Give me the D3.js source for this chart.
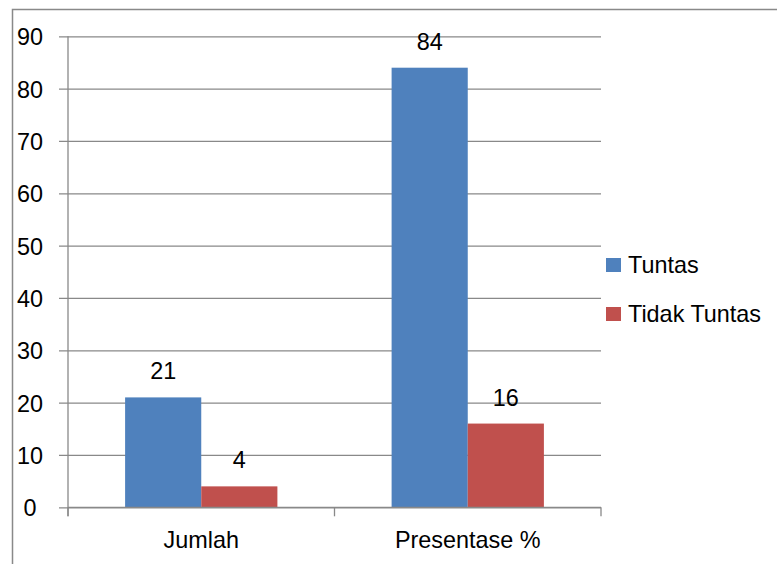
<!DOCTYPE html>
<html>
<head>
<meta charset="utf-8">
<script src="https://cdn.jsdelivr.net/npm/d3@7"></script>
<style>
  html, body { margin: 0; padding: 0; background: #fff; }
  svg { display: block; }
  text { font-family: "Liberation Sans", Arial, sans-serif; fill: #000; }
</style>
</head>
<body>
<svg id="chart" width="777" height="564"></svg>
<script>
// Chart data
const categories = ["Jumlah", "Presentase %"];
const seriesNames = ["Tuntas", "Tidak Tuntas"];
const tuntas = [21, 84];
const tidakTuntas = [4, 16];
const yTicks = [0, 10, 20, 30, 40, 50, 60, 70, 80, 90];
const colors = ["#4F81BD", "#C0504D"];

const svg = d3.select("#chart");
const W = 777, H = 564;
const plot = { left: 68, right: 601, top: 36.3, bottom: 507.3 };
const gridColor = "#898989";
const fontSize = 23.4;

// Outer chart frame (extends past the right and bottom edges)
svg.append("path")
  .attr("d", `M12.5,${H + 2} L12.5,9.5 L${W + 2},9.5`)
  .attr("fill", "none")
  .attr("stroke", gridColor)
  .attr("stroke-width", 1.5);

const y = d3.scaleLinear().domain([0, 90]).range([plot.bottom, plot.top]);
const x0 = d3.scaleBand().domain(categories).range([plot.left, plot.right]).paddingInner(0).paddingOuter(0);
const x1 = d3.scaleBand().domain(seriesNames).range([0, x0.bandwidth()]).paddingInner(0).paddingOuter(0.75);

// Horizontal gridlines with tick stubs
const yAxis = d3.axisLeft(y).tickValues(yTicks).tickSize(-(plot.right - plot.left)).tickPadding(0).tickFormat("");
const gy = svg.append("g").attr("transform", `translate(${plot.left},0)`).call(yAxis);
gy.select(".domain").remove();
gy.selectAll(".tick line").attr("stroke", gridColor).attr("stroke-width", 1.3)
  .attr("x1", -9);
gy.selectAll(".tick")
  .append("text")
  .attr("x", -38)
  .attr("dy", "0.36em")
  .attr("text-anchor", "middle")
  .style("font-size", fontSize + "px")
  .text(d => d);

// Bars
const rows = categories.map((c, i) => ({ cat: c, vals: [tuntas[i], tidakTuntas[i]] }));
const groups = svg.append("g").selectAll("g").data(rows).join("g")
  .attr("transform", d => `translate(${x0(d.cat)},0)`);

groups.selectAll("rect").data(d => d.vals.map((v, j) => ({ v, s: seriesNames[j], j })))
  .join("rect")
  .attr("x", d => x1(d.s))
  .attr("width", x1.bandwidth())
  .attr("y", d => y(d.v))
  .attr("height", d => y(0) - y(d.v))
  .attr("fill", d => colors[d.j]);

// Value labels
groups.selectAll("text.val").data(d => d.vals.map((v, j) => ({ v, s: seriesNames[j], j })))
  .join("text")
  .attr("class", "val")
  .attr("x", d => x1(d.s) + x1.bandwidth() / 2)
  .attr("y", d => y(d.v) - 18)
  .attr("text-anchor", "middle")
  .style("font-size", fontSize + "px")
  .text(d => d.v);

// Category axis
const xAxisG = svg.append("g").attr("transform", `translate(0,${plot.bottom})`);
xAxisG.append("line")
  .attr("x1", plot.left).attr("x2", plot.right)
  .attr("stroke", gridColor).attr("stroke-width", 1.3);
const edges = [plot.left, ...categories.map(c => x0(c) + x0.bandwidth())];
xAxisG.selectAll("line.tk").data(edges).join("line")
  .attr("class", "tk")
  .attr("x1", d => d).attr("x2", d => d)
  .attr("y1", 0).attr("y2", 9)
  .attr("stroke", gridColor).attr("stroke-width", 1.3);
xAxisG.selectAll("text").data(categories).join("text")
  .attr("x", d => x0(d) + x0.bandwidth() / 2)
  .attr("y", 41)
  .attr("text-anchor", "middle")
  .style("font-size", fontSize + "px")
  .text(d => d);

// Vertical axis line
svg.append("line")
  .attr("x1", plot.left).attr("x2", plot.left)
  .attr("y1", plot.top).attr("y2", plot.bottom + 9)
  .attr("stroke", gridColor).attr("stroke-width", 1.3);

// Legend
const legend = svg.append("g").attr("transform", "translate(606,258)");
const li = legend.selectAll("g").data(seriesNames).join("g")
  .attr("transform", (d, i) => `translate(0,${i * 49})`);
li.append("rect").attr("width", 15).attr("height", 14).attr("fill", (d, i) => colors[i]);
li.append("text").attr("x", 22).attr("y", 15).style("font-size", fontSize + "px").text(d => d);
</script>
</body>
</html>
